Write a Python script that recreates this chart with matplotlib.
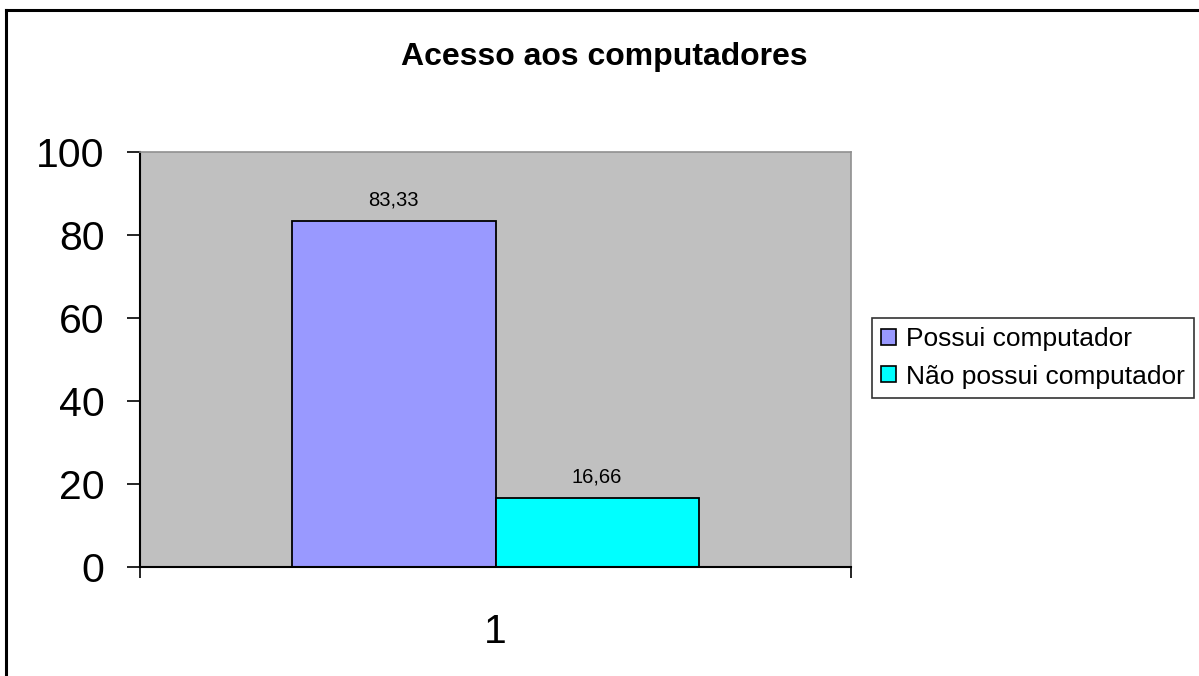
import matplotlib.pyplot as plt
from matplotlib.lines import Line2D
from matplotlib.patches import Patch

plt.rcParams['font.family'] = ['Liberation Sans', 'DejaVu Sans']

series = ["Possui computador", "Não possui computador"]
values = [83.33, 16.66]
value_labels = ["83,33", "16,66"]
colors = ["#9999ff", "#00ffff"]
categories = [1]

fig = plt.figure(figsize=(11.99, 6.76), dpi=100)
W, H = 1199, 676
ax = fig.add_axes([140 / W, 1 - 567 / H, 711 / W, 415 / H])
ax.set_facecolor("#c0c0c0")

w = 0.286
offsets = [-w / 2, w / 2]
for i, (name, v) in enumerate(zip(series, values)):
    x = categories[0] + offsets[i]
    ax.bar(x, v, width=w, color=colors[i], edgecolor="black", linewidth=1.3, label=name)
    ax.text(x, v + 2.8, value_labels[i], ha="center", va="bottom", fontsize=14.5)

ax.set_xlim(0.5, 1.5)
ax.set_ylim(0, 100)
ax.set_yticks([0, 20, 40, 60, 80, 100])
ax.set_xticks([0.5, 1.5])
ax.set_xticklabels(["", ""])
ax.tick_params(axis="y", labelsize=29.5, length=9.5, width=1.2, direction="out", pad=16)
ax.tick_params(axis="x", length=8, width=1.2, direction="out")
ax.text(1.0, -0.11, "1", transform=ax.get_xaxis_transform(), ha="center", va="top", fontsize=29.5)

for side in ["left", "bottom"]:
    ax.spines[side].set_color("black")
    ax.spines[side].set_linewidth(1.5)
for side in ["top", "right"]:
    ax.spines[side].set_color("#909090")
    ax.spines[side].set_linewidth(1.2)

fig.text(604 / W, 1 - 57 / H, "Acesso aos computadores", ha="center", va="center",
         fontsize=23, fontweight="bold")

handles = [Patch(facecolor=c, edgecolor="black", linewidth=1.2) for c in colors]
leg = fig.legend(handles, series, loc="center left", bbox_to_anchor=(872 / W, 1 - 358 / H),
                 fontsize=19, frameon=True, fancybox=False, edgecolor="black",
                 handlelength=0.55, handleheight=0.55, handletextpad=0.4,
                 borderpad=0.35, labelspacing=0.5, borderaxespad=0)
leg.get_frame().set_linewidth(1.2)

# outer frame: top and left edges only
fig.add_artist(Line2D([6 / W, 1.0], [1 - 10 / H, 1 - 10 / H], color="black", linewidth=2.2))
fig.add_artist(Line2D([6 / W, 6 / W], [0.0, 1 - 10 / H], color="black", linewidth=2.2))

fig.savefig("out.png", dpi=100)
